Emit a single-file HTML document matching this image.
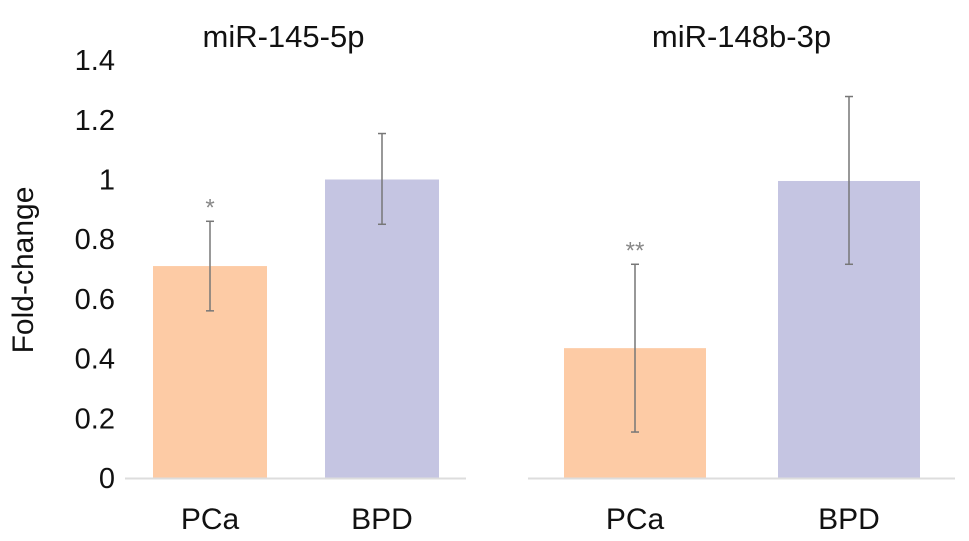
<!DOCTYPE html>
<html><head><meta charset="utf-8"><style>
html,body{margin:0;padding:0;background:#fff}
svg{display:block;font-family:"Liberation Sans",Arial,sans-serif}
</style></head><body>
<svg id="chart" width="969" height="541" viewBox="0 0 969 541">
<text x="33" y="270" font-size="30" fill="#111" text-anchor="middle" transform="rotate(-90 33 270)">Fold-change</text>
<g id="ticks"></g>
<g id="panels"></g>
</svg>
<script>
const ticks=[0,0.2,0.4,0.6,0.8,1,1.2,1.4];
const tickLabels=["0","0.2","0.4","0.6","0.8","1","1.2","1.4"];
const panelTitles=["miR-145-5p","miR-148b-3p"];
const categories=["PCa","BPD"];
const means=[[0.71,1.0],[0.435,0.995]];
const errUpper=[[0.86,1.154],[0.716,1.278]];
const errLower=[[0.56,0.85],[0.154,0.716]];
const stars=[["*",""],["**",""]];

const NS="http://www.w3.org/2000/svg";
const y0=478, pxPerUnit=298.5;
function y(v){return y0-v*pxPerUnit;}
const panels=[{x0:125,x1:466,bars:[[153,267],[325,439]]},{x0:528,x1:955,bars:[[564,706],[778,920]]}];
const colors=["#fdcba5","#c5c5e2"];
function mk(tag,attrs,parent){const e=document.createElementNS(NS,tag);for(const k in attrs)e.setAttribute(k,attrs[k]);parent.appendChild(e);return e;}
const tg=document.getElementById('ticks');
ticks.forEach((t,i)=>{
 const e=mk('text',{x:115,y:y(t)+10,'font-size':29,'text-anchor':'end',fill:'#111'},tg);
 e.textContent=tickLabels[i];
 
 
});
const pg=document.getElementById('panels');
panels.forEach((p,pi)=>{
 const g=mk('g',{},pg);
 
 
 const tt=mk('text',{x:(p.x0+p.x1)/2+(pi==0?-12:0),y:47,'font-size':31,'text-anchor':'middle',fill:'#111'},g);
 tt.textContent=panelTitles[pi];
 
 
 categories.forEach((c,ci)=>{
  const [bx0,bx1]=p.bars[ci];const cx=(bx0+bx1)/2;
  const r=mk('rect',{x:bx0,y:y(means[pi][ci]),width:bx1-bx0,height:y0-y(means[pi][ci]),fill:colors[ci]},g);
  
  
  const eg=mk('g',{stroke:'#777','stroke-width':1.5},g);
  
  
  mk('line',{x1:cx,x2:cx,y1:y(errUpper[pi][ci]),y2:y(errLower[pi][ci])},eg);
  mk('line',{x1:cx-4,x2:cx+4,y1:y(errUpper[pi][ci]),y2:y(errUpper[pi][ci])},eg);
  mk('line',{x1:cx-4,x2:cx+4,y1:y(errLower[pi][ci]),y2:y(errLower[pi][ci])},eg);
  if(stars[pi][ci]){
   const s=mk('text',{x:cx,y:y(errUpper[pi][ci])-6,'font-size':24,'text-anchor':'middle',fill:'#888'},g);
   s.textContent=stars[pi][ci];
   
   
  }
  const l=mk('text',{x:cx,y:529,'font-size':30,'text-anchor':'middle',fill:'#111'},g);
  l.textContent=c;
  
  
 });
 const bl=mk('line',{x1:p.x0,x2:p.x1,y1:y0+0.5,y2:y0+0.5,stroke:'#ddd','stroke-width':2},g);
 
 
});
</script>
</body></html>
